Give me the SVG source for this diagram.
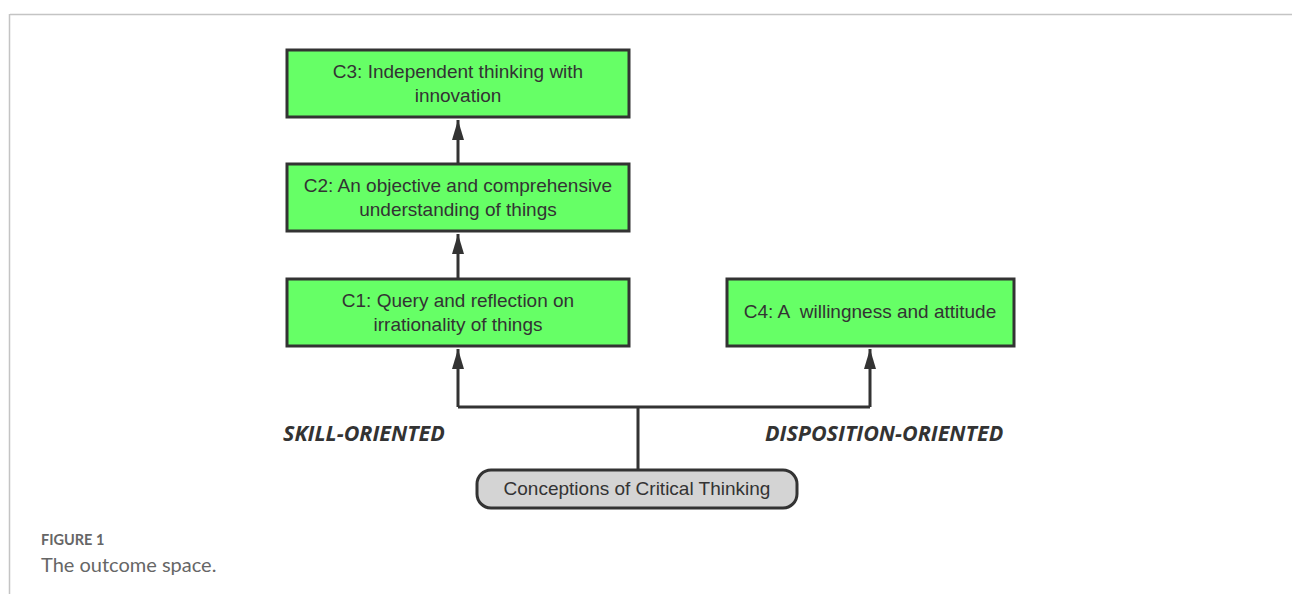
<svg xmlns="http://www.w3.org/2000/svg" width="1292" height="594" viewBox="0 0 1292 594">
<style>
.box{fill:#66ff66;stroke:#333;stroke-width:3}
.pill{fill:#d4d4d4;stroke:#333;stroke-width:3}
.t{font-family:"Liberation Sans",Arial,sans-serif;font-size:19px;fill:#333;text-anchor:middle}
.lab{font-family:"Open Sans","DejaVu Sans",sans-serif;font-size:21.5px;font-weight:bold;font-style:italic;fill:#333}
.con{fill:none;stroke:#333;stroke-width:3}
</style>
<defs>
<marker id="ah2" markerWidth="20" markerHeight="12" refX="20" refY="6" orient="auto" markerUnits="userSpaceOnUse" viewBox="0 0 20 12">
<path d="M0,0 L20,6 L0,12 Z" fill="#333"/>
</marker>
</defs>
<rect width="1292" height="594" fill="#fff"/>
<path d="M10,14.5 H1292 M9.5,14 V594" stroke="#c4c4c4" stroke-width="1.5" fill="none"/>
<g id="connectors">
<path class="con" d="M458,163 V120" marker-end="url(#ah2)"/>
<path class="con" d="M458,278 V234" marker-end="url(#ah2)"/>
<path class="con" d="M638,469 V407 M458,407 H870 M870,407 V349" marker-end="url(#ah2)"/>
<path class="con" d="M458,407 V349" marker-end="url(#ah2)"/>
</g>
<g id="c3"><rect class="box" x="287" y="50" width="342" height="67"/><text class="t" x="458" y="78">C3: Independent thinking with</text><text class="t" x="458" y="102">innovation</text></g>
<g id="c2"><rect class="box" x="287" y="164" width="342" height="67"/><text class="t" x="458" y="192">C2: An objective and comprehensive</text><text class="t" x="458" y="216">understanding of things</text></g>
<g id="c1"><rect class="box" x="287" y="279" width="342" height="67"/><text class="t" x="458" y="307">C1: Query and reflection on</text><text class="t" x="458" y="331">irrationality of things</text></g>
<g id="c4"><rect class="box" x="727" y="279" width="287" height="67"/><text class="t" x="870" y="318" xml:space="preserve">C4: A  willingness and attitude</text></g>
<g id="root"><rect class="pill" x="477" y="470" width="320" height="38" rx="14"/><text class="t" x="637" y="495">Conceptions of Critical Thinking</text></g>
<g id="labels">
<text class="lab" x="283" y="441">SKILL-ORIENTED</text>
<text class="lab" x="765" y="441">DISPOSITION-ORIENTED</text>
</g>
<g id="caption">
<text x="41" y="545" font-family="Lato,'Open Sans',sans-serif" font-size="14.5" font-weight="bold" fill="#666">FIGURE 1</text>
<text x="41" y="572" font-family="Lato,'Open Sans',sans-serif" font-size="20" fill="#666">The outcome space.</text>
</g>
</svg>
